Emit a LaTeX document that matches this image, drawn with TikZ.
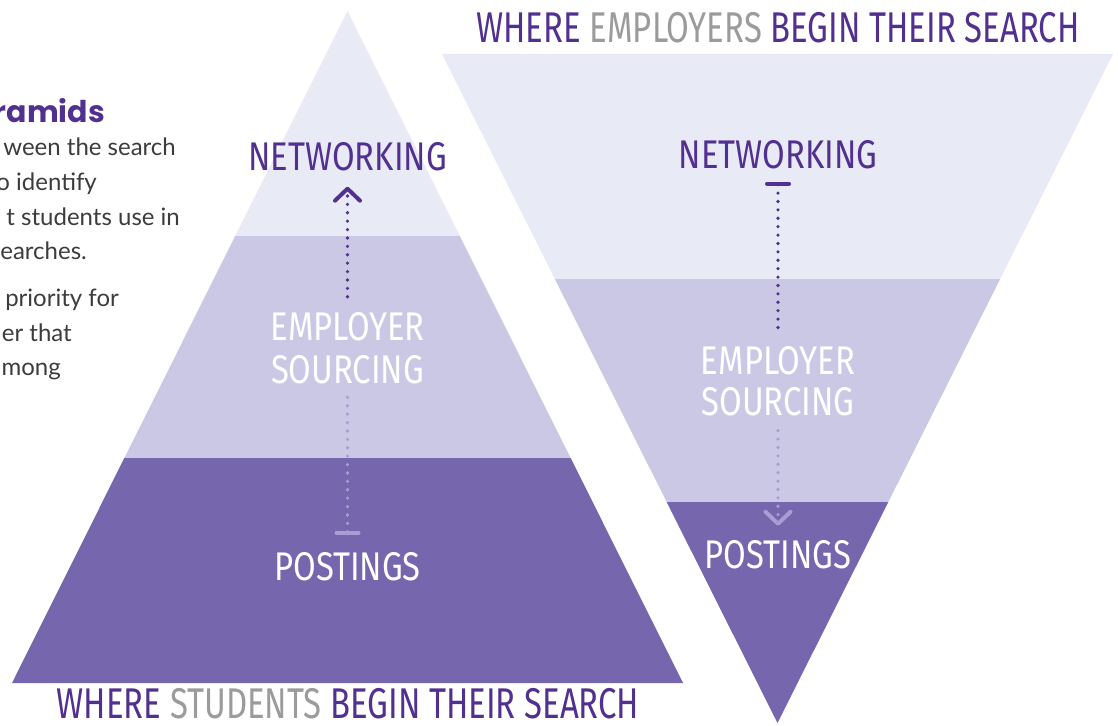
\documentclass[tikz,border=0pt]{standalone}
\usepackage{fontspec}
\setmainfont{Lato}
\newfontfamily\condfont[FakeStretch=0.82]{Fira Sans}
\newfontfamily\titlefont[FakeStretch=0.765]{Fira Sans}
\newfontfamily\headfont{Poppins}
\usetikzlibrary{arrows.meta}

\definecolor{bandtop}{HTML}{E8EAF5}
\definecolor{bandmid}{HTML}{CBC8E5}
\definecolor{bandlow}{HTML}{7566AD}
\definecolor{ink}{HTML}{52308F}
\definecolor{greyword}{HTML}{9B9B9B}
\definecolor{bodyink}{HTML}{3C3C3C}
\definecolor{dotlight}{HTML}{A99ED3}

\begin{document}
\begin{tikzpicture}[x=1pt,y=-1pt,
    lbl/.style={inner sep=0pt,anchor=base,font=\condfont\fontsize{40}{40}\selectfont},
    titletext/.style={inner sep=0pt,anchor=base,text=ink,font=\titlefont\fontsize{43}{43}\selectfont},
    body/.style={inner sep=0pt,anchor=base east,text=bodyink,font=\fontsize{24}{24}\selectfont},
    dotline/.style={line width=3.6pt,line cap=round,dash pattern=on 0pt off 8.4pt},
    chev/.style={-{Straight Barb[length=12pt,width=25pt,line width=4pt,round]}},
    barstart/.style={{Bar[width=22pt,line width=4pt,round]}-}]

  \useasboundingbox (0,0) rectangle (1118,725);

  % students pyramid
  \begin{scope}
    \clip (347.5,11) -- (683,683) -- (12,683) -- cycle;
    \fill[bandtop] (0,0) rectangle (700,236);
    \fill[bandmid] (0,236) rectangle (700,458);
    \fill[bandlow] (0,458) rectangle (700,690);
  \end{scope}

  % employers pyramid (upside down)
  \begin{scope}
    \clip (442,54) -- (1113,54) -- (777.5,723) -- cycle;
    \fill[bandtop] (430,50) rectangle (1118,279);
    \fill[bandmid] (430,279) rectangle (1118,502);
    \fill[bandlow] (430,502) rectangle (1118,725);
  \end{scope}

  % left text, cut at the page edge
  \node[body,text=ink,font=\headfont\bfseries\fontsize{30}{30}\selectfont] (head) at (105,122) {ramids};
  \foreach \txt/\xr/\yb [count=\i] in {ween the search/176/155, o identify/97/190,
      t students use in/180/225, earches./87/259, priority for/119/306,
      er that/72/341, mong/61/375}
  {
    \node[body] (body\i) at (\xr,\yb) {\txt};
  }

  % labels, students side
  \node[lbl,text=ink] (netL) at (347.5,170) {NETWORKING};
  \node[lbl,text=white] (empL) at (347.5,340) {EMPLOYER};
  \node[lbl,text=white] (srcL) at (347.5,383) {SOURCING};
  \node[lbl,text=white] (postL) at (347.5,580) {POSTINGS};

  % labels, employers side
  \node[lbl,text=ink] (netR) at (778,168) {NETWORKING};
  \node[lbl,text=white] (empR) at (778,374) {EMPLOYER};
  \node[lbl,text=white] (srcR) at (778,415) {SOURCING};
  \node[lbl,text=white] (postR) at (778,568) {POSTINGS};

  % dotted arrows
  \draw[dotline,ink,chev,shorten <=15pt,shorten >=16pt] (empL.north) -- (netL.south);
  \draw[dotline,dotlight,barstart,shorten <=17pt,shorten >=13pt] (postL.north) -- (srcL.south);
  \draw[dotline,ink,barstart,shorten <=13pt,shorten >=13pt] (netR.south) -- (empR.north);
  \draw[dotline,dotlight,chev,shorten <=15pt,shorten >=14pt] (srcR.south) -- (postR.north);

  % titles
  \node[titletext] (titleR) at (778,42) {WHERE \textcolor{greyword}{EMPLOYERS} BEGIN THEIR SEARCH};
  \node[titletext] (titleL) at (348,718) {WHERE \textcolor{greyword}{STUDENTS} BEGIN THEIR SEARCH};

\end{tikzpicture}
\end{document}
